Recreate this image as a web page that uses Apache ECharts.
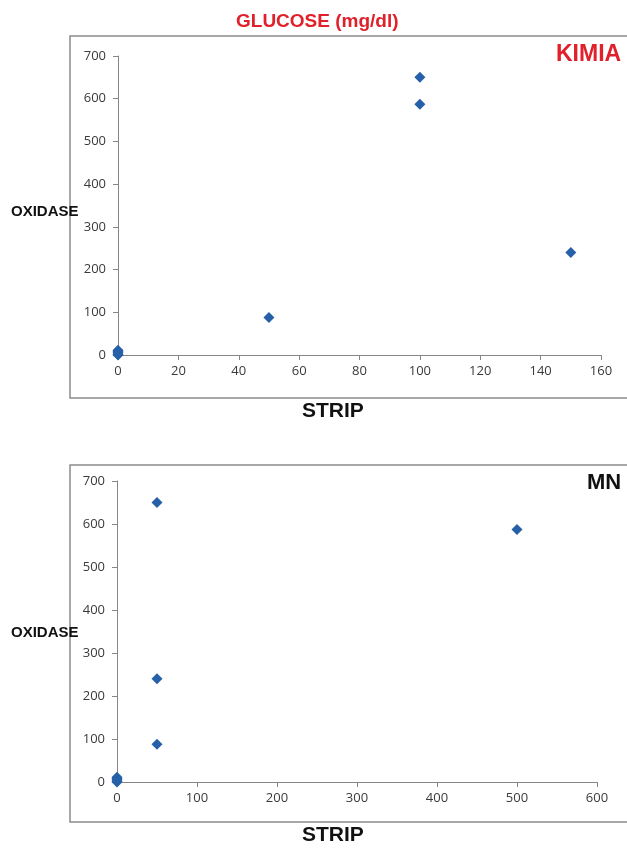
<!DOCTYPE html>
<html><head><meta charset="utf-8">
<script src="https://cdn.jsdelivr.net/npm/echarts@6/dist/echarts.min.js"></script>
<style>html,body{margin:0;padding:0;background:#fff}#c{width:627px;height:848px}</style>
</head><body><div id="c"></div>
<script>
// Top panel (KIMIA): strip vs oxidase
const kimiaStrip   = [0, 0, 0, 0, 0, 50, 100, 100, 150];
const kimiaOxidase = [0, 2, 5, 8, 11, 88, 650, 587, 240];
// Bottom panel (MN)
const mnStrip   = [0, 0, 0, 0, 0, 50, 50, 50, 500];
const mnOxidase = [0, 2, 5, 8, 11, 650, 240, 88, 587];
const yTicks = [0, 100, 200, 300, 400, 500, 600, 700];
const xTicksTop = [0, 20, 40, 60, 80, 100, 120, 140, 160];
const xTicksBottom = [0, 100, 200, 300, 400, 500, 600];

const pair = (a, b) => a.map((v, i) => [v, b[i]]);
const axisCol = '#868686';
const lbl = {color: '#3a3a3a', fontSize: 13, fontFamily: 'Open Sans', margin: 10};
function xAx(idx, ticks) {
  return {gridIndex: idx, type: 'value', min: ticks[0], max: ticks[ticks.length - 1],
    interval: ticks[1] - ticks[0], splitLine: {show: false},
    axisLine: {onZero: false, lineStyle: {color: axisCol}},
    axisTick: {length: 5, lineStyle: {color: axisCol}}, axisLabel: lbl};
}
function yAx(idx) {
  return {gridIndex: idx, type: 'value', min: yTicks[0], max: yTicks[yTicks.length - 1],
    interval: yTicks[1] - yTicks[0], splitLine: {show: false},
    axisLine: {show: true, lineStyle: {color: axisCol}},
    axisTick: {show: true, length: 5, lineStyle: {color: axisCol}}, axisLabel: Object.assign({}, lbl, {margin: 12})};
}
const bold = (txt, x, y, size, color, sy) => ({type: 'text', x, y, scaleY: sy || 1, style: {text: txt, fontSize: size, fontWeight: 'bold', fontFamily: 'Liberation Sans', fill: color}});
const chart = echarts.init(document.getElementById('c'));
chart.setOption({
  animation: false,
  backgroundColor: '#fff',
  grid: [
    {left: 118, top: 56, right: 26, bottom: 493},
    {left: 117, top: 481, right: 30, bottom: 66}
  ],
  xAxis: [xAx(0, xTicksTop), xAx(1, xTicksBottom)],
  yAxis: [yAx(0), yAx(1)],
  series: [
    {type: 'scatter', xAxisIndex: 0, yAxisIndex: 0, symbol: 'diamond', symbolSize: 11,
     itemStyle: {color: '#2660A8', opacity: 1}, data: pair(kimiaStrip, kimiaOxidase)},
    {type: 'scatter', xAxisIndex: 1, yAxisIndex: 1, symbol: 'diamond', symbolSize: 11,
     itemStyle: {color: '#2660A8', opacity: 1}, data: pair(mnStrip, mnOxidase)}
  ],
  graphic: [
    {type: 'rect', shape: {x: 70, y: 36, width: 600, height: 362}, style: {fill: 'none', stroke: '#8c8c8c', lineWidth: 1.5}, z: -1},
    {type: 'rect', shape: {x: 70, y: 465, width: 600, height: 357}, style: {fill: 'none', stroke: '#8c8c8c', lineWidth: 1.5}, z: -1},
    bold('GLUCOSE (mg/dl)', 236, 12, 19, '#E0202A'),
    bold('KIMIA', 556, 43, 23, '#E0202A'),
    bold('MN', 587, 472, 22, '#111'),
    bold('OXIDASE', 11, 204, 15, '#111'),
    bold('OXIDASE', 11, 625, 15, '#111'),
    bold('STRIP', 302, 401, 21, '#111'),
    bold('STRIP', 302, 825, 21, '#111')
  ]
});
</script></body></html>
